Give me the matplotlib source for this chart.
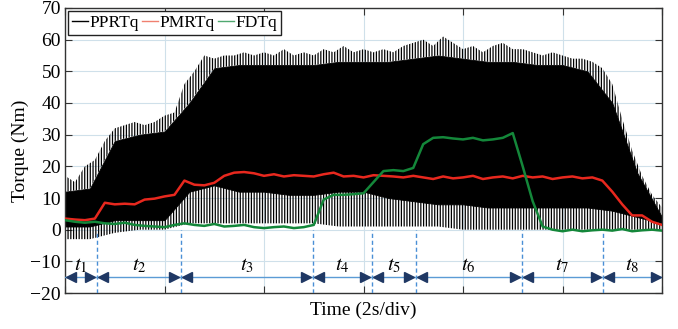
import numpy as np
import matplotlib
matplotlib.use("Agg")
import matplotlib.pyplot as plt
from matplotlib.lines import Line2D

plt.rcParams['font.family'] = ['Liberation Serif', 'DejaVu Serif']
plt.rcParams['mathtext.fontset'] = 'stix'
plt.rcParams['hatch.linewidth'] = 0.9

# ---------------- data (time in s, torque in Nm)
t_fine = np.arange(0, 12.01, 0.2)

pprt_peak = [17, 15, 20, 22, 28, 32, 33, 34, 33, 34,
             36, 37, 46, 50, 55, 54, 55, 55, 56, 55,
             56, 55, 57, 55, 56, 55, 57, 56, 58, 56,
             57, 56, 57, 56, 58, 59, 60, 58, 61, 59,
             57, 58, 56, 58, 59, 57, 57, 56, 55, 56,
             55, 54, 54, 53, 51, 46, 35, 25, 17, 11, 7]

t_coarse = np.arange(0, 12.01, 0.5)
# top of the fully black body (spikes reach up to pprt_peak)
pprt_solid_top = [12, 13, 28, 30, 31, 40, 51, 52, 52, 52, 52, 53, 53,
                  53, 54, 55, 54, 53, 53, 52, 52, 50, 40, 18, 4]
pprt_solid_low = [1, 1, 3, 3, 3, 12, 14, 12, 12, 11, 11, 12, 12,
                  10, 9, 8, 8, 7, 7, 7, 7, 7, 6, 4, 2]
pprt_trough = [-3, -3, -1, 0, 0, 2, 2, 2, 2, 2, 2, 1, 1,
               1, 1, 1, 0, 0, 0, 0, 0, 0, 0, 0, 0]

pmrt = [3.5, 3.2, 3.0, 3.5, 8.5, 8.0, 8.2, 8.0, 9.5, 9.8,
        10.5, 11.0, 15.5, 14.2, 14.0, 14.8, 17.0, 18.0, 18.2, 17.8,
        17.0, 17.5, 16.8, 17.2, 17.0, 16.8, 17.5, 18.0, 16.8, 17.0,
        16.5, 17.2, 17.0, 16.8, 16.5, 17.0, 16.5, 16.0, 16.8, 16.2,
        16.5, 17.0, 16.0, 16.5, 16.8, 16.2, 17.0, 16.5, 16.8, 16.0,
        16.5, 16.8, 16.2, 16.5, 15.5, 12.0, 8.0, 4.5, 4.5, 2.5, 1.5]

fdt = [3.0, 2.5, 2.2, 2.5, 2.0, 1.8, 2.2, 1.5, 1.2, 1.0,
       0.8, 1.5, 2.0, 1.5, 1.2, 1.8, 1.0, 1.2, 1.5, 0.8,
       0.5, 0.8, 1.0, 0.5, 0.8, 1.5, 9.5, 11.0, 11.0, 11.2,
       11.5, 15.0, 18.5, 18.8, 18.5, 19.5, 27.0, 29.0, 29.2, 28.8,
       28.5, 29.0, 28.2, 28.5, 29.0, 30.5, 20.0, 9.0, 1.0, 0.0,
       -0.5, 0.0, -0.5, -0.2, 0.0, -0.3, 0.2, -0.5, -0.2, 0.0, -0.3]

# interval boundaries t1..t8
bounds = [0, 0.64, 2.33, 4.98, 6.17, 7.05, 9.18, 10.81, 12]
seg_labels = [r'$t_1$', r'$t_2$', r'$t_3$', r'$t_4$',
              r'$t_5$', r'$t_6$', r'$t_7$', r'$t_8$']

# ---------------- figure
fig = plt.figure(figsize=(6.78, 3.29), dpi=100)
ax = fig.add_axes([0.0959, 0.1094, 0.8805, 0.8663])

ax.set_xlim(0, 12)
ax.set_ylim(-20, 70)
ax.set_xticks(np.arange(0, 12.1, 2))
ax.set_xticklabels([])
ax.set_yticks(np.arange(-20, 71, 10))
ax.grid(True, color='#cfe0ea', lw=0.8)
ax.set_axisbelow(True)
ax.tick_params(direction='in', top=True, right=True, length=5,
               labelsize=14, color='#333333', pad=3)
for s in ax.spines.values():
    s.set_color('#333333')
    s.set_linewidth(1.0)

# PPRTq: dense oscillation -> spiky top, solid body, spiky lower part
ax.fill(np.concatenate([t_fine, t_coarse[::-1]]),
        np.concatenate([pprt_peak, pprt_solid_top[::-1]]),
        facecolor='none', edgecolor='black', hatch='||||||', lw=0, zorder=2)
ax.fill_between(t_coarse, pprt_solid_low, pprt_solid_top,
                color='black', lw=0.6, zorder=2)
ax.fill_between(t_coarse, pprt_trough, pprt_solid_low, facecolor='none',
                edgecolor='black', hatch='||||||', lw=0, zorder=2)

# interval markers
for b in bounds[1:-1]:
    ax.plot([b, b], [-20, 0], ls=(0, (3, 2)), color='#4a8fd6', lw=1.0, zorder=3)
ax.axhline(-15, color='#5b9bd5', lw=1.0, zorder=3)
dx = 0.13
for i in range(len(bounds) - 1):
    a, b = bounds[i], bounds[i + 1]
    ax.plot(a + dx, -15, marker='<', color='#1f3864', ms=7, zorder=4)
    ax.plot(b - dx, -15, marker='>', color='#1f3864', ms=7, zorder=4)
    ax.text((a + b) / 2, -11.5, seg_labels[i], ha='center', va='center',
            fontsize=15)

ax.plot(t_fine, pmrt, color='#e8281e', lw=1.8, zorder=5)
ax.plot(t_fine, fdt, color='#14873a', lw=1.8, zorder=6)

ax.set_ylabel('Torque (Nm)', fontsize=14, labelpad=1)
ax.set_xlabel('Time (2s/div)', fontsize=14, labelpad=3)

handles = [Line2D([], [], color='black', lw=1),
           Line2D([], [], color='#f08070', lw=1),
           Line2D([], [], color='#50a870', lw=1)]
leg = ax.legend(handles, ['PPRTq', 'PMRTq', 'FDTq'], loc='upper left',
                ncol=3, fontsize=12.5, fancybox=False, framealpha=1,
                edgecolor='#222222', handlelength=0.9, handletextpad=0.1,
                columnspacing=0.2, borderpad=0.2, borderaxespad=0.2)
leg.get_frame().set_linewidth(1.0)
leg.set_zorder(10)

fig.savefig('out.png', dpi=100)
